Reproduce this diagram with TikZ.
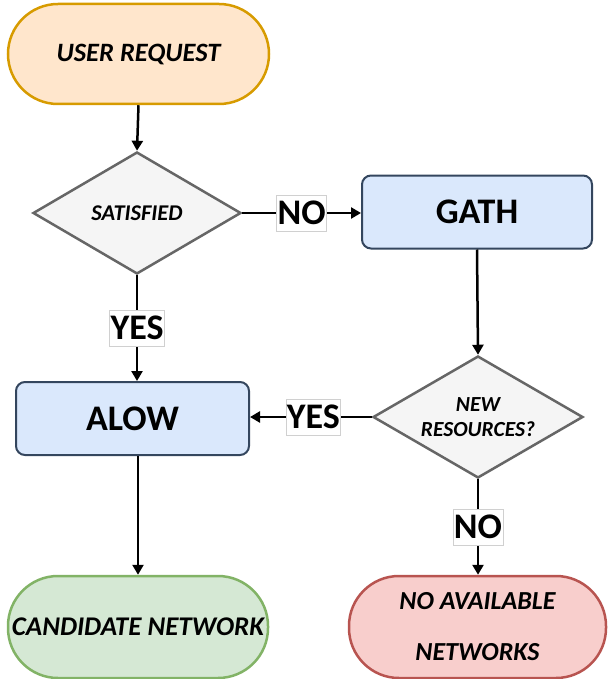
\documentclass[tikz,border=0pt]{standalone}
\usepackage{fontspec}
\setmainfont{Carlito}
\usetikzlibrary{shapes.geometric,arrows.meta}
\definecolor{orfill}{HTML}{FFE6CC}
\definecolor{orline}{HTML}{D79B00}
\definecolor{grfill}{HTML}{F5F5F5}
\definecolor{grline}{HTML}{666666}
\definecolor{blfill}{HTML}{DAE8FC}
\definecolor{blline}{HTML}{34465E}
\definecolor{gnfill}{HTML}{D5E8D4}
\definecolor{gnline}{HTML}{82B366}
\definecolor{rdfill}{HTML}{F8CECC}
\definecolor{rdline}{HTML}{B85450}
\definecolor{lblline}{HTML}{D0D0D0}
\begin{document}
\begin{tikzpicture}[x=1pt,y=-1pt,
  term/.style={rounded corners=50pt, line width=2.5pt, minimum width=#1, minimum height=100pt, inner sep=0pt, font=\fontsize{26.5}{30}\selectfont\bfseries\itshape, align=center},
  dec/.style={diamond, aspect=1.7, draw=grline, fill=grfill, line width=2.5pt, minimum width=208pt, minimum height=122pt, inner sep=0pt, align=center},
  proc/.style={rounded corners=9pt, draw=blline, fill=blfill, line width=2pt, minimum width=#1, minimum height=73pt, inner sep=0pt, font=\fontsize{36}{40}\selectfont\bfseries},
  lbl/.style={draw=lblline, line width=0.6pt, fill=white, inner xsep=1pt, inner ysep=6pt, font=\fontsize{36}{40}\selectfont\bfseries},
  arr/.style={line width=2.5pt, -{Triangle[length=10pt,width=11pt]}}]
\useasboundingbox (0,0) rectangle (607,679);
\node[term=261pt, draw=orline, fill=orfill] (ur) at (138.5,54) {USER REQUEST};
\node[dec, font=\fontsize{22.5}{24}\selectfont\bfseries\itshape] (sat) at (137,213) {SATISFIED};
\node[proc=230pt] (gath) at (477,212) {GATH};
\node[proc=233pt] (alow) at (132.5,418.5) {ALOW};
\node[dec, minimum width=210pt, font=\fontsize{21.5}{25}\selectfont\bfseries\itshape] (nr) at (478,417) {NEW\\RESOURCES?};
\node[term=260pt, draw=gnline, fill=gnfill, minimum height=102pt, font=\fontsize{27}{30}\selectfont\bfseries\itshape] (cand) at (138,627) {CANDIDATE NETWORK};
\node[term=257pt, draw=rdline, fill=rdfill, minimum height=102pt, font=\fontsize{26}{51}\selectfont\bfseries\itshape] (noav) at (477.5,627) {NO AVAILABLE\\NETWORKS};
\draw[arr] (ur.south) -- (sat.north);
\draw[arr] (sat.east) -- (gath.west |- sat.east) node[lbl, midway] (l1) {NO};
\draw[arr] (sat.south) -- (alow.north -| sat.south) node[lbl, pos=0.5] (l2) {YES};
\draw[arr] (gath.south) -- (nr.north);
\draw[arr] (nr.west) -- (alow.east |- nr.west) node[lbl, pos=0.48] (l3) {YES};
\draw[arr] (alow.south -| cand.north) -- (cand.north);
\draw[arr] (nr.south) -- (noav.north -| nr.south) node[lbl, pos=0.5] (l4) {NO};
\end{tikzpicture}
\end{document}
